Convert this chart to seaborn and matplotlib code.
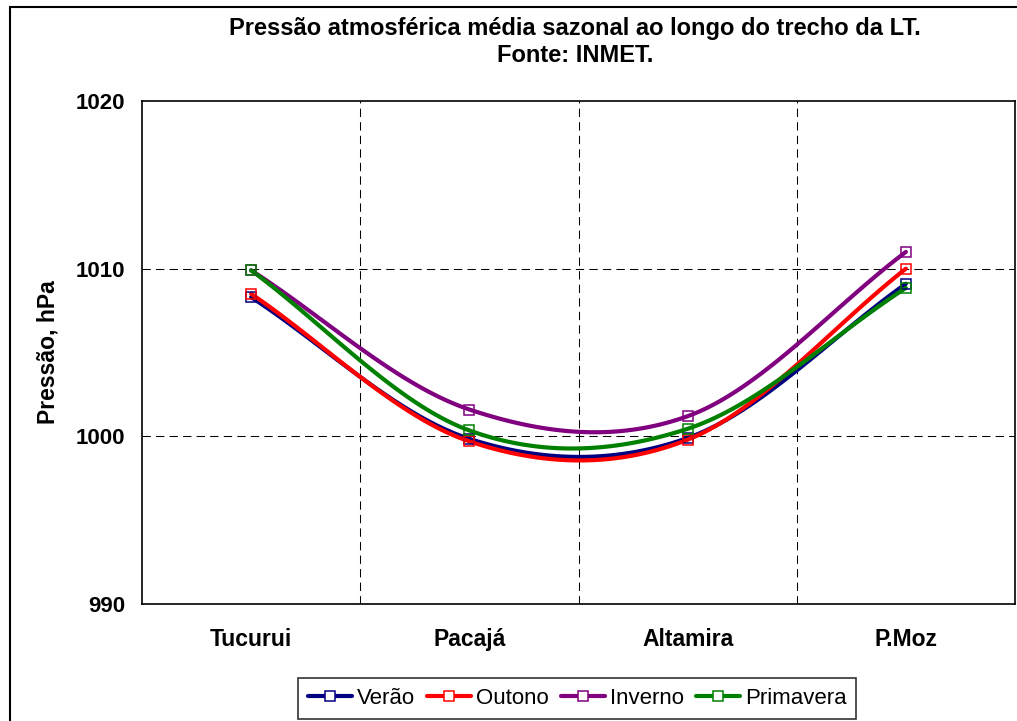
import numpy as np
import pandas as pd
import matplotlib
matplotlib.use("Agg")
import matplotlib.pyplot as plt
from matplotlib.lines import Line2D
from matplotlib.patches import Rectangle
import seaborn as sns

# ---- data ----
locais = ["Tucurui", "Pacajá", "Altamira", "P.Moz"]
verao = [1008.3, 999.85, 999.9, 1009.1]
outono = [1008.5, 999.7, 999.8, 1010.0]
inverno = [1009.9, 1001.6, 1001.2, 1011.0]
primavera = [1009.9, 1000.35, 1000.45, 1008.85]

series = {"Verão": verao, "Outono": outono, "Inverno": inverno, "Primavera": primavera}
cores = {"Verão": "#000080", "Outono": "#FF0000", "Inverno": "#800080", "Primavera": "#008000"}


def suaviza(y, n=40):
    # Excel-like smoothed line through the points
    y = np.asarray(y, dtype=float)
    k = len(y)
    m = np.zeros(k)
    m[1:-1] = (y[2:] - y[:-2]) / 2
    m[0] = y[1] - y[0]
    m[-1] = y[-1] - y[-2]
    xs, ys = [], []
    for i in range(k - 1):
        t = np.linspace(0, 1, n, endpoint=(i == k - 2))
        h00 = 2 * t**3 - 3 * t**2 + 1
        h10 = t**3 - 2 * t**2 + t
        h01 = -2 * t**3 + 3 * t**2
        h11 = t**3 - t**2
        xs.append(i + t)
        ys.append(h00 * y[i] + h10 * m[i] + h01 * y[i + 1] + h11 * m[i + 1])
    return np.concatenate(xs), np.concatenate(ys)


sns.set_style("white")
plt.rcParams["font.family"] = ["Liberation Sans", "DejaVu Sans"]
plt.rcParams["text.color"] = "black"
plt.rcParams["axes.labelcolor"] = "black"
plt.rcParams["xtick.color"] = "black"
plt.rcParams["ytick.color"] = "black"

fig = plt.figure(figsize=(10.17, 7.21), dpi=100)
ax = fig.add_axes([142 / 1017, 1 - 604 / 721, 873 / 1017, 503 / 721])

x = np.arange(len(locais))
for nome, vals in series.items():
    xs, ys = suaviza(vals)
    sns.lineplot(x=xs, y=ys, ax=ax, color=cores[nome], lw=3, sort=False, zorder=3)
    ax.plot(x, vals, ls="none", marker="s", ms=6.5, mfc="none",
            mec=cores[nome], mew=1.1, zorder=4)

ax.set_xlim(-0.5, 3.5)
ax.set_ylim(990, 1020)
ax.set_yticks([990, 1000, 1010, 1020])
ax.set_xticks(x)
ax.set_xticklabels(locais)
ax.set_xticks([-0.5, 0.5, 1.5, 2.5, 3.5], minor=True)

for v in [1000, 1010]:
    ax.axhline(v, color="black", lw=0.75, ls=(0, (8, 5)), zorder=1)
for v in [0.5, 1.5, 2.5]:
    ax.axvline(v, color="black", lw=0.75, ls=(0, (8, 5)), zorder=1)

for s in ax.spines.values():
    s.set_color("black")
    s.set_linewidth(1.2)

ax.tick_params(axis="y", which="major", direction="out", length=5, width=1,
               color="#808080", labelcolor="black", pad=7, labelsize=16)
ax.tick_params(axis="x", which="major", length=0, pad=17, labelsize=16.5,
               labelcolor="black")
ax.tick_params(axis="x", which="minor", direction="out", length=5, width=1,
               color="#808080")
for lab in ax.get_xticklabels() + ax.get_yticklabels():
    lab.set_fontweight("bold")

ax.set_ylabel("Pressão, hPa", fontsize=16.5, fontweight="bold")
ax.yaxis.set_label_coords(-0.095, 0.5)
ax.set_xlabel("")

fig.text(575 / 1017, 1 - 42 / 721,
         "Pressão atmosférica média sazonal ao longo do trecho da LT.\nFonte: INMET.",
         ha="center", va="center", fontsize=17, fontweight="bold",
         multialignment="center", linespacing=1.25)

handles = [Line2D([], [], color=cores[n], lw=3, marker="s", ms=6.5,
                  mfc="white", mec=cores[n], mew=1.1) for n in series]
leg = fig.legend(handles, list(series.keys()), loc="center", ncol=4,
                 bbox_to_anchor=(577 / 1017, 1 - 698 / 721), fontsize=16,
                 frameon=True, fancybox=False, edgecolor="black",
                 handlelength=2.0, handletextpad=0.2, columnspacing=0.55,
                 borderpad=0.45, borderaxespad=0)
leg.get_frame().set_linewidth(1.2)

# outer chart border
fig.patches.append(Rectangle((10 / 1017, -0.1), 1.2, 1.1 - 7 / 721,
                             transform=fig.transFigure, fill=False,
                             edgecolor="black", lw=1.5))

fig.savefig("out.png", dpi=100)
